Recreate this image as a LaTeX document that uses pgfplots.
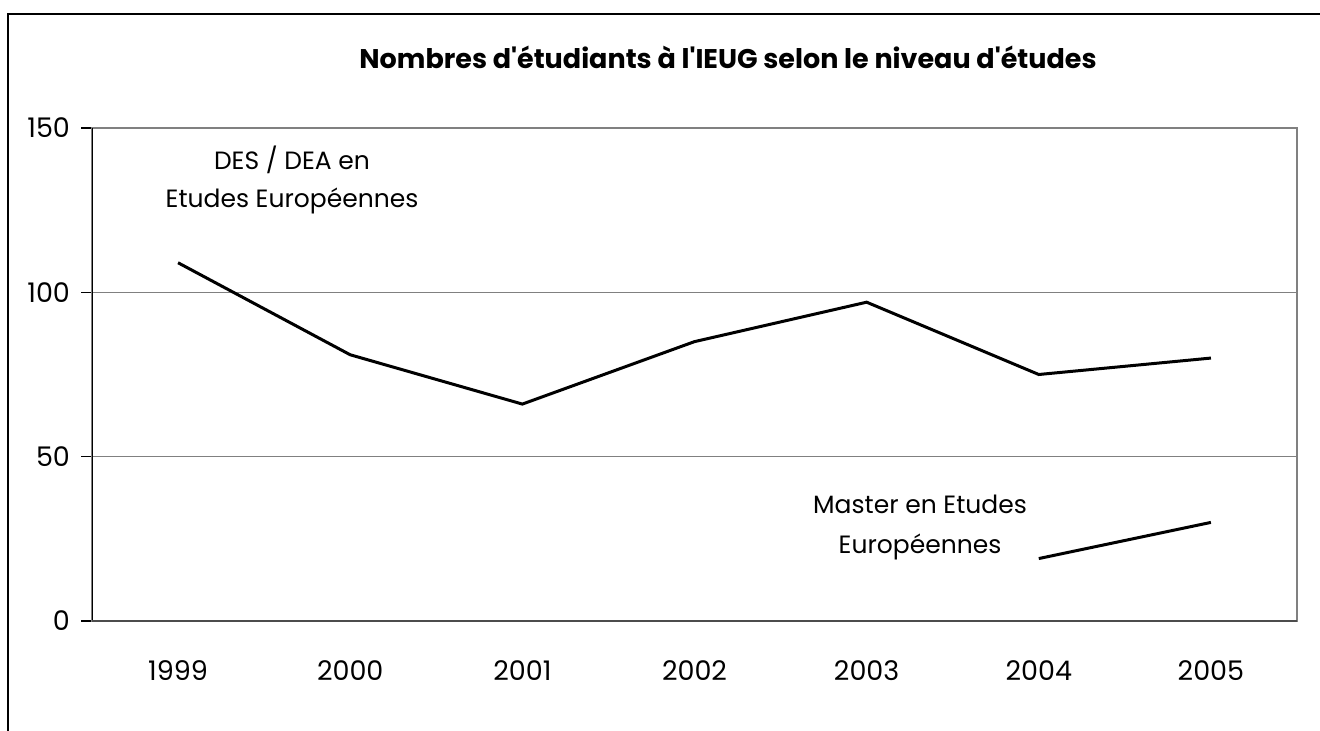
\documentclass[border=0pt]{standalone}
\usepackage{fontspec}
\setmainfont{Poppins}
\usepackage{pgfplots}
\pgfplotsset{compat=1.18}

\begin{document}
\begin{tikzpicture}
% 1 px of the reference = 0.5pt, origin at the top left
\path[use as bounding box] (0pt,0pt) rectangle (660pt,-365.5pt);
\draw[black, line width=0.8pt] (4pt,-365.5pt) -- (4pt,-7pt) -- (660pt,-7pt);

\begin{axis}[
  at={(46pt,-310.5pt)}, anchor=south west,
  width=602.5pt, height=246.5pt, scale only axis,
  xmin=-0.5, xmax=6.5, ymin=0, ymax=150,
  xtick={0,...,6},
  xticklabels={1999,2000,2001,2002,2003,2004,2005},
  xtick style={draw=none},
  extra x ticks={-0.5,0.5,1.5,2.5,3.5,4.5,5.5,6.5},
  extra x tick labels={},
  extra x tick style={major tick length=5pt, tick style={draw=black!70, line width=0.6pt}},
  ytick={0,50,100,150},
  ytick pos=left, xtick pos=bottom,
  tick align=outside, major tick length=5.5pt,
  ytick style={draw=black, line width=0.6pt},
  ymajorgrids, grid style={draw=black!50, line width=0.6pt},
  axis line style={draw=black!50, line width=0.6pt},
  tick label style={font=\fontsize{13.5}{15}\selectfont},
  /pgf/number format/assume math mode=true,
  xticklabel style={yshift=-11pt},
  yticklabel style={xshift=-2pt},
]
\addplot[black, line width=1.5pt] coordinates {
  (0,109) (1,81) (2,66) (3,85) (4,97) (5,75) (6,80)};
\addplot[black, line width=1.5pt] coordinates {
  (5,19) (6,30)};
\draw[black, line width=0.8pt] (rel axis cs:0,0) -- (rel axis cs:0,1);
\draw[black!70, line width=1pt] (rel axis cs:0,0) -- (rel axis cs:1,0);
\end{axis}

\node[font=\fontsize{13.5}{15}\selectfont\bfseries] at (364pt,-28.5pt)
  {Nombres d\textquotesingle étudiants à l\textquotesingle IEUG selon le niveau d\textquotesingle études};
\node[font=\fontsize{12.5}{19}\selectfont, align=center] at (146pt,-90pt)
  {DES / DEA en\\Etudes Européennes};
\node[font=\fontsize{12.5}{20}\selectfont, align=center] at (460pt,-263.5pt)
  {Master en Etudes\\Européennes};
\end{tikzpicture}
\end{document}
